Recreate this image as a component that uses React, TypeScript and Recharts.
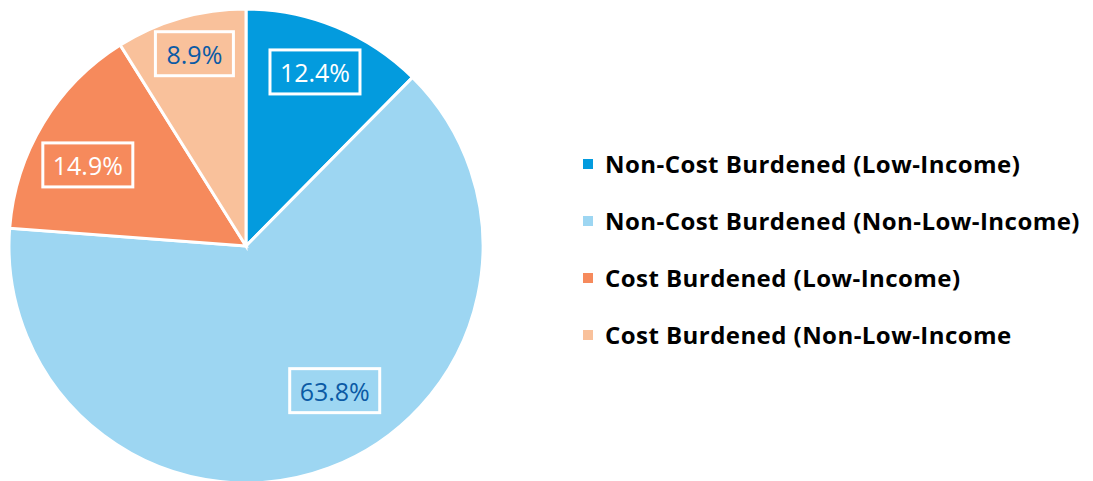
import { PieChart, Pie, Cell, Legend } from "recharts";

const categories = [
  "Non-Cost Burdened (Low-Income)",
  "Non-Cost Burdened (Non-Low-Income)",
  "Cost Burdened (Low-Income)",
  "Cost Burdened (Non-Low-Income",
];
const shares = [12.4, 63.8, 14.9, 8.9];
const sliceColors = ["#039BDE", "#9DD6F2", "#F68A5C", "#F9C19B"];
const labelColors = ["#FFFFFF", "#0B5AA5", "#FFFFFF", "#0B5AA5"];

const data = categories.map((name, i) => ({ name, value: shares[i] }));

const FONT = "'Open Sans', 'Noto Sans', sans-serif";
const RAD = Math.PI / 180;

// Excel drags the data labels a little; angle nudge (deg) and radius fraction per slice
const labelNudge = [
  { da: 0.7, rf: 0.79 },
  { da: 11, rf: 0.716 },
  { da: 4, rf: 0.75 },
  { da: -1, rf: 0.84 },
];

function BoxLabel(props: any) {
  const { cx, cy, midAngle, outerRadius, index, value } = props;
  const n = labelNudge[index];
  const angle = midAngle + n.da;
  const r = outerRadius * n.rf;
  const x = cx + r * Math.cos(-angle * RAD);
  const y = cy + r * Math.sin(-angle * RAD);
  const text = `${value.toFixed(1)}%`;
  const w = text.length * 12 + 30;
  const h = 44;
  return (
    <g>
      <rect x={x - w / 2} y={y - h / 2} width={w} height={h} fill="none" stroke="#FFFFFF" strokeWidth={3} />
      <text
        x={x}
        y={y}
        textAnchor="middle"
        dominantBaseline="central"
        fill={labelColors[index]}
        fontFamily={FONT}
        fontSize={25}
        fontWeight={500}
      >
        {text}
      </text>
    </g>
  );
}

function LegendList() {
  return (
    <div style={{ fontFamily: FONT }}>
      {categories.map((c, i) => (
        <div key={c} style={{ display: "flex", alignItems: "center", height: 57 }}>
          <span style={{ width: 10, height: 10, background: sliceColors[i], marginRight: 12 }} />
          <span style={{ fontSize: 24, fontWeight: 700, letterSpacing: 0.45, color: "#000" }}>{c}</span>
        </div>
      ))}
    </div>
  );
}

export default function App() {
  return (
    <div style={{ position: "absolute", left: 0, top: 0, width: 1093, height: 481, background: "#fff" }}>
      <PieChart width={1093} height={481} margin={{ top: 0, right: 0, bottom: 0, left: 0 }}>
        <Pie
          data={data}
          dataKey="value"
          nameKey="name"
          cx={246}
          cy={246}
          outerRadius={237}
          startAngle={90}
          endAngle={-270}
          stroke="#FFFFFF"
          strokeWidth={3}
          label={BoxLabel}
          labelLine={false}
          isAnimationActive={false}
        >
          {data.map((d, i) => (
            <Cell key={d.name} fill={sliceColors[i]} />
          ))}
        </Pie>
        <Legend
          layout="vertical"
          align="right"
          verticalAlign="top"
          wrapperStyle={{ left: 583, top: 135, width: 510 }}
          content={() => <LegendList />}
        />
      </PieChart>
    </div>
  );
}
